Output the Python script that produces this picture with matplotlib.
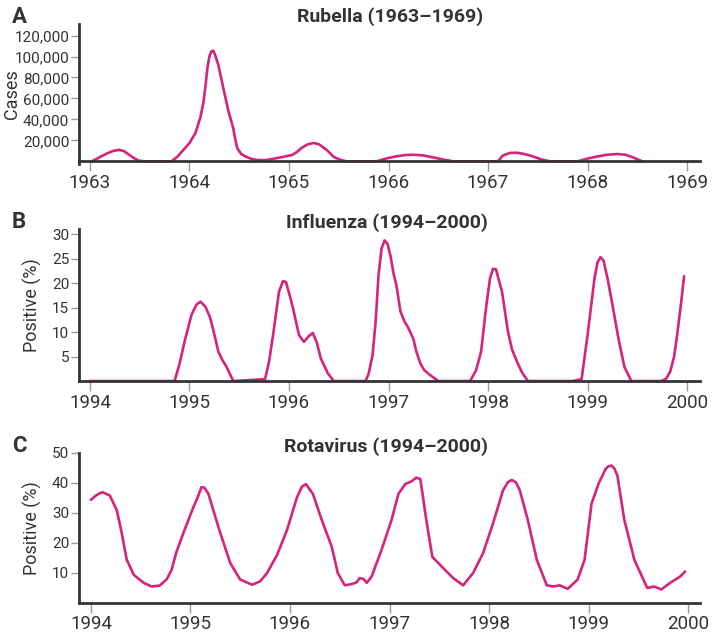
import matplotlib
matplotlib.use('Agg')
import matplotlib.pyplot as plt

plt.rcParams['font.family'] = ['Roboto', 'DejaVu Sans']

LINE = '#d6237c'
INK = '#333333'

# rubella cases, 1963-1969
rub_year = [1963.02, 1963.10, 1963.17, 1963.23, 1963.29, 1963.34, 1963.38, 1963.44, 1963.49, 1963.55,
            1963.82, 1963.88, 1963.94, 1964.00, 1964.06, 1964.11, 1964.14, 1964.16, 1964.18, 1964.20,
            1964.22, 1964.24, 1964.26, 1964.29, 1964.34, 1964.39, 1964.44, 1964.46, 1964.48, 1964.52,
            1964.56, 1964.62, 1964.68, 1964.76, 1964.84, 1964.94, 1965.03, 1965.08, 1965.13, 1965.19,
            1965.25, 1965.30, 1965.38, 1965.45, 1965.52, 1965.58, 1965.88, 1965.98, 1966.08, 1966.17,
            1966.25, 1966.35, 1966.45, 1966.55, 1966.65, 1967.10, 1967.15, 1967.22, 1967.29, 1967.37,
            1967.45, 1967.53, 1967.62, 1967.90, 1968.00, 1968.10, 1968.20, 1968.30, 1968.38, 1968.46,
            1968.55]
rub_cases = [0, 4000, 7500, 9800, 11000, 9800, 7200, 3200, 600, 0,
             0, 4500, 11000, 17500, 27000, 42000, 56000, 71000, 89000, 100000,
             105000, 105500, 101000, 92000, 70000, 48500, 31500, 21000, 12500, 7000,
             4800, 2400, 1300, 1100, 2400, 4200, 6000, 9000, 13000, 16300,
             17500, 16300, 10800, 4200, 1300, 0, 0, 2800, 4800, 6000,
             6300, 5600, 3700, 1700, 0, 0, 5600, 8000, 8200, 6900,
             4700, 2000, 0, 0, 2600, 4700, 6300, 7000, 6300, 3600,
             0]

# influenza, % positive, 1994-2000
flu_year = [1994.00, 1994.85, 1994.90, 1994.95, 1995.02, 1995.07, 1995.11, 1995.16, 1995.21, 1995.25,
            1995.29, 1995.33, 1995.37, 1995.44, 1995.76, 1995.80, 1995.84, 1995.90, 1995.94, 1995.97,
            1996.00, 1996.04, 1996.10, 1996.15, 1996.20, 1996.24, 1996.28, 1996.32, 1996.39, 1996.45,
            1996.77, 1996.80, 1996.84, 1996.87, 1996.90, 1996.93, 1996.96, 1996.99, 1997.02, 1997.05,
            1997.08, 1997.12, 1997.16, 1997.20, 1997.25, 1997.28, 1997.32, 1997.36, 1997.42, 1997.50,
            1997.82, 1997.88, 1997.93, 1997.98, 1998.02, 1998.05, 1998.08, 1998.11, 1998.14, 1998.20,
            1998.24, 1998.29, 1998.34, 1998.40, 1998.85, 1998.94, 1999.00, 1999.04, 1999.07, 1999.10,
            1999.13, 1999.16, 1999.20, 1999.25, 1999.31, 1999.37, 1999.44, 1999.74, 1999.79, 1999.83,
            1999.87, 1999.90, 1999.94, 1999.97]
flu_pos = [0, 0, 3.5, 8, 13.5, 15.6, 16.2, 15.2, 12.8, 9.5,
           6, 4.3, 3, 0, 0.4, 4, 9.4, 18.3, 20.4, 20.2,
           18, 14.9, 9.4, 8, 9.2, 9.8, 7.8, 4.6, 1.6, 0,
           0, 1.5, 5.3, 12, 21.7, 27, 28.7, 28, 25.5, 22,
           19.5, 14.2, 12.2, 10.8, 8.6, 6, 3.6, 2.2, 1.2, 0,
           0, 2.2, 6, 14.9, 21, 22.9, 22.8, 20.5, 18.3, 10.1,
           6.5, 4, 1.8, 0, 0, 0.4, 9.4, 16, 21, 24.2,
           25.3, 24.6, 21, 15.6, 8.7, 2.9, 0, 0, 0.5, 1.9,
           5, 9.4, 16, 21.4]

# rotavirus, % positive, 1994-2000
rota_year = [1994.00, 1994.05, 1994.09, 1994.12, 1994.19, 1994.26, 1994.31, 1994.36, 1994.43, 1994.53,
             1994.61, 1994.69, 1994.76, 1994.81, 1994.86, 1994.94, 1995.03, 1995.07, 1995.11, 1995.14,
             1995.18, 1995.29, 1995.40, 1995.50, 1995.62, 1995.70, 1995.77, 1995.87, 1995.97, 1996.07,
             1996.12, 1996.16, 1996.23, 1996.32, 1996.42, 1996.48, 1996.55, 1996.62, 1996.67, 1996.70,
             1996.74, 1996.77, 1996.82, 1996.92, 1997.02, 1997.09, 1997.16, 1997.22, 1997.27, 1997.31,
             1997.37, 1997.43, 1997.54, 1997.64, 1997.74, 1997.84, 1997.94, 1998.04, 1998.14, 1998.19,
             1998.23, 1998.27, 1998.31, 1998.39, 1998.48, 1998.58, 1998.65, 1998.71, 1998.79, 1998.89,
             1998.96, 1999.03, 1999.10, 1999.17, 1999.20, 1999.23, 1999.26, 1999.29, 1999.36, 1999.46,
             1999.59, 1999.66, 1999.73, 1999.82, 1999.92, 1999.97]
rota_pos = [34.4, 35.8, 36.6, 36.9, 35.8, 30.9, 23.2, 14.4, 9.4, 6.7,
            5.5, 5.8, 7.8, 11, 17.1, 24.3, 32, 35, 38.6, 38.4,
            36.4, 24.3, 13.3, 7.8, 6.1, 7.2, 10, 16, 24.3, 35.2,
            38.8, 39.6, 36.4, 27.6, 18.7, 10, 5.9, 6.3, 6.9, 8.3,
            8.0, 6.7, 8.8, 17.7, 27.6, 36.4, 39.7, 40.5, 41.8, 41.3,
            27.6, 15.4, 11.6, 8.3, 5.9, 10, 16.6, 26.5, 37.5, 40.3,
            41, 40.2, 37.5, 27.6, 14.4, 5.9, 5.5, 5.9, 4.7, 7.8,
            14.4, 33.1, 39.7, 44.6, 45.6, 45.8, 44.8, 42.4, 27.6, 14.4,
            5, 5.5, 4.5, 6.7, 8.8, 10.5]

rub_ticks = [1963, 1964, 1965, 1966, 1967, 1968, 1969]
rub_yticks = [20000, 40000, 60000, 80000, 100000, 120000]
flu_ticks = [1994, 1995, 1996, 1997, 1998, 1999, 2000]
flu_yticks = [5, 10, 15, 20, 25, 30]
rota_yticks = [10, 20, 30, 40, 50]


def style_axis(ax):
    for side in ['top', 'right']:
        ax.spines[side].set_visible(False)
    for side in ['left', 'bottom']:
        ax.spines[side].set_color(INK)
        ax.spines[side].set_linewidth(2.0)
    ax.tick_params(axis='x', length=7, width=1, color='#999999', labelsize=13.5,
                   labelcolor=INK, pad=2)
    ax.tick_params(axis='y', length=6, width=1, color='#999999', labelsize=11,
                   labelcolor=INK, pad=1)


fig = plt.figure(figsize=(7.13, 6.33), dpi=100)

# panel A
ax1 = fig.add_axes([0.1108, 0.741, 0.871, 0.221])
ax1.plot(rub_year, rub_cases, color=LINE, lw=1.9, solid_capstyle='round')
ax1.set_xlim(1962.89, 1969.13)
ax1.set_ylim(-2500, 131000)
ax1.set_xticks(rub_ticks)
ax1.set_yticks(rub_yticks)
ax1.set_yticklabels(['{:,}'.format(v) for v in rub_yticks])
ax1.set_ylabel('Cases', fontsize=13, color=INK)
ax1.yaxis.set_label_coords(-0.094, 0.5)
style_axis(ax1)
ax1.spines['bottom'].set_position(('data', 0))
fig.text(0.547, 0.973, 'Rubella (1963\u20131969)', ha='center', va='center',
         fontsize=14, fontweight='bold', color=INK)
fig.text(0.017, 0.973, 'A', ha='left', va='center', fontsize=16, fontweight='bold', color=INK)

# panel B
ax2 = fig.add_axes([0.1108, 0.398, 0.871, 0.240])
ax2.plot(flu_year, flu_pos, color=LINE, lw=1.9, solid_capstyle='round')
ax2.set_xlim(1993.89, 2000.13)
ax2.set_ylim(0, 31)
ax2.set_xticks(flu_ticks)
ax2.set_yticks(flu_yticks)
ax2.set_ylabel('Positive (%)', fontsize=13, color=INK)
ax2.yaxis.set_label_coords(-0.060, 0.5)
style_axis(ax2)
fig.text(0.542, 0.649, 'Influenza (1994\u20132000)', ha='center', va='center',
         fontsize=14, fontweight='bold', color=INK)
fig.text(0.017, 0.649, 'B', ha='left', va='center', fontsize=16, fontweight='bold', color=INK)

# panel C
ax3 = fig.add_axes([0.1108, 0.0474, 0.871, 0.237])
ax3.plot(rota_year, rota_pos, color=LINE, lw=1.9, solid_capstyle='round')
ax3.set_xlim(1993.88, 2000.12)
ax3.set_ylim(0, 50)
ax3.set_xticks(flu_ticks)
ax3.set_yticks(rota_yticks)
ax3.set_ylabel('Positive (%)', fontsize=13, color=INK)
ax3.yaxis.set_label_coords(-0.060, 0.5)
style_axis(ax3)
fig.text(0.542, 0.295, 'Rotavirus (1994\u20132000)', ha='center', va='center',
         fontsize=14, fontweight='bold', color=INK)
fig.text(0.017, 0.295, 'C', ha='left', va='center', fontsize=16, fontweight='bold', color=INK)

fig.savefig('out.png', dpi=100, facecolor='white')
